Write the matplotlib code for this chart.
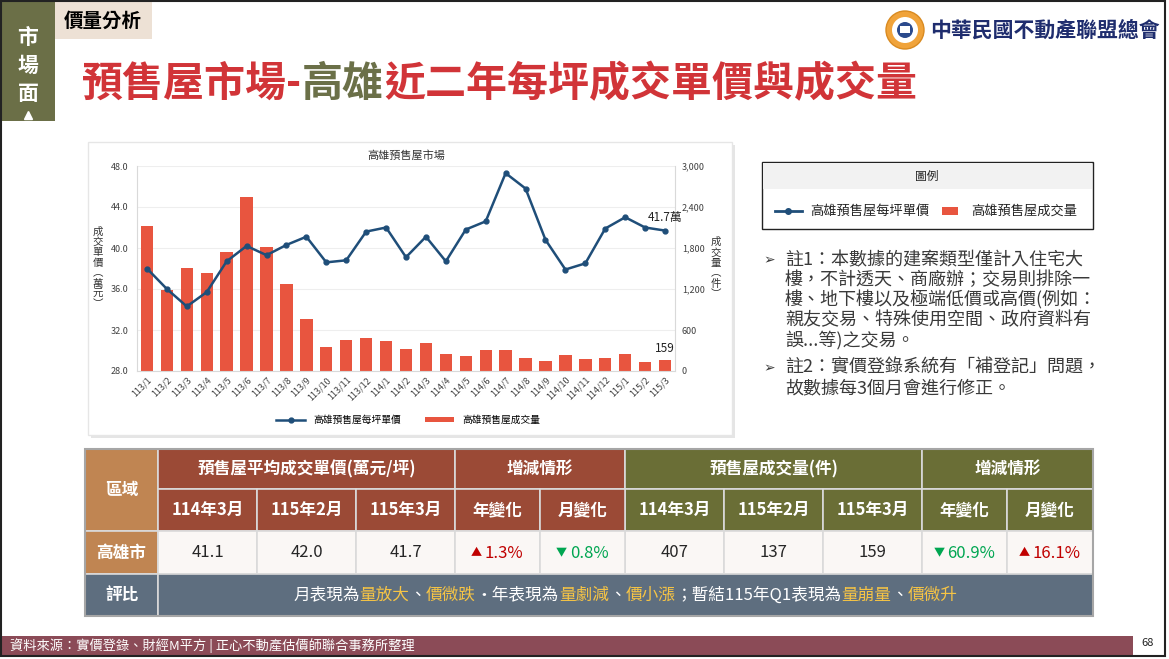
import matplotlib
matplotlib.use('Agg')
import matplotlib.pyplot as plt
from matplotlib.patches import Rectangle, Circle, Patch
from matplotlib.lines import Line2D
from matplotlib.ticker import FuncFormatter

plt.rcParams['font.family'] = ['Noto Sans CJK TC', 'DejaVu Sans']

# chart data
months = ['113/1', '113/2', '113/3', '113/4', '113/5', '113/6', '113/7', '113/8', '113/9',
          '113/10', '113/11', '113/12', '114/1', '114/2', '114/3', '114/4', '114/5', '114/6',
          '114/7', '114/8', '114/9', '114/10', '114/11', '114/12', '115/1', '115/2', '115/3']
price = [38.0, 36.0, 34.3, 35.7, 38.7, 40.2, 39.3, 40.3, 41.1, 38.6, 38.8, 41.6, 42.0, 39.1,
         41.1, 38.7, 41.8, 42.6, 47.3, 45.8, 40.8, 37.9, 38.5, 41.9, 43.0, 42.0, 41.7]
volume = [2120, 1180, 1510, 1430, 1740, 2550, 1810, 1280, 760, 350, 450, 485, 435, 318,
          407, 244, 215, 303, 313, 186, 147, 230, 171, 186, 244, 137, 159]

# table data
periods = ['114年3月', '115年2月', '115年3月']
price_vals = [41.1, 42.0, 41.7]
price_yoy = 1.3
price_mom = -0.8
vol_vals = [407, 137, 159]
vol_yoy = -60.9
vol_mom = 16.1

notes = [
    ['註1：本數據的建案類型僅計入住宅大',
     '樓，不計透天、商廠辦；交易則排除一',
     '樓、地下樓以及極端低價或高價(例如：',
     '親友交易、特殊使用空間、政府資料有',
     '誤...等)之交易。'],
    ['註2：實價登錄系統有「補登記」問題，',
     '故數據每3個月會進行修正。'],
]

LINE_C = '#1F4E79'
BAR_C = '#E8553F'
RED = '#D13438'
OLIVE = '#6B7048'
BROWN = '#9B4A36'
GREEN_HDR = '#6A6E36'
TAN = '#C08552'
SLATE = '#5E6E7F'
YEL = '#F6C445'

W, H = 1169, 659
fig = plt.figure(figsize=(W / 100, H / 100), dpi=100)
fig.patch.set_facecolor('white')

# background axes in pixel coords
bg = fig.add_axes([0, 0, 1, 1])
bg.set_xlim(0, W)
bg.set_ylim(H, 0)
bg.axis('off')
renderer = fig.canvas.get_renderer()


def seg_text(x, y, parts, ha='left', **kw):
    # parts: list of (string, color, size)
    widths = []
    for s, c, sz in parts:
        t = bg.text(0, 0, s, fontsize=sz, **kw)
        widths.append(t.get_window_extent(renderer).width)
        t.remove()
    x0 = x - sum(widths) / 2 if ha == 'center' else x
    for (s, c, sz), w in zip(parts, widths):
        bg.text(x0, y, s, color=c, fontsize=sz, ha='left', va='center', **kw)
        x0 += w


# frame
bg.add_patch(Rectangle((1, 1), 1164, 655, fill=False, ec='#222222', lw=1.5, zorder=5))

# left tab + beige label
bg.add_patch(Rectangle((2, 2), 53, 119, fc='#6B6F47', ec='none'))
for i, ch in enumerate('市場面'):
    bg.text(28, 37 + i * 28, ch, color='white', fontsize=15, fontweight='bold',
            ha='center', va='center')
bg.plot([28], [115], marker='^', color='white', ms=6)
bg.add_patch(Rectangle((55, 2), 97, 37, fc='#EDE1D5', ec='none'))
bg.text(103, 21, '價量分析', fontsize=14, fontweight='bold', ha='center', va='center')

# title
seg_text(82, 84, [('預售屋市場-', RED, 29.5), ('高雄', OLIVE, 29.5),
                  ('近二年每坪成交單價與成交量', RED, 29.5)], fontweight='bold')

# logo
bg.add_patch(Circle((905, 30), 19, fc='#F0A33A', ec='#D98A20', lw=1))
bg.add_patch(Circle((905, 30), 13, fc='white', ec='none'))
bg.add_patch(Circle((905, 30), 8, fc='#2B4A8C', ec='none'))
bg.add_patch(Rectangle((900, 26), 10, 7, fc='white', ec='none'))
bg.text(930, 30, '中華民國不動產聯盟總會', fontsize=15, fontweight='bold', color='#1F2D6E',
        ha='left', va='center')

# chart card
bg.add_patch(Rectangle((91, 145), 644, 293, fc='#D5D5D5', ec='none', alpha=0.6))
bg.add_patch(Rectangle((88, 142), 644, 293, fc='white', ec='#E6E6E6', lw=1))
bg.text(406, 156, '高雄預售屋市場', fontsize=8, color='#333333', ha='center', va='center')
bg.text(98, 268, '\n'.join('成交單價︵萬元︶'), fontsize=7.5, color='#333333',
        ha='center', va='center', linespacing=1.05)
bg.text(716, 268, '\n'.join('成交量︵件︶'), fontsize=7.5, color='#333333',
        ha='center', va='center', linespacing=1.05)

ax = fig.add_axes([137 / W, 1 - 371 / H, (675 - 137) / W, (371 - 166) / H])
axr = ax.twinx()
x = list(range(len(months)))
axr.bar(x, volume, width=0.62, color=BAR_C, zorder=2)
axr.set_ylim(0, 3000)
axr.set_yticks(range(0, 3001, 600))
axr.yaxis.set_major_formatter(FuncFormatter(lambda v, p: f'{int(v):,}'))
axr.grid(axis='y', color='#EEEEEE', lw=0.8)
axr.set_axisbelow(True)

ax.set_zorder(axr.get_zorder() + 1)
ax.patch.set_visible(False)
ax.plot(x, price, color=LINE_C, lw=1.8, marker='o', ms=3.5)
ax.set_ylim(28, 48)
ax.set_yticks(range(28, 49, 4))
ax.yaxis.set_major_formatter(FuncFormatter(lambda v, p: f'{v:.1f}'))
ax.set_xlim(-0.5, len(months) - 0.5)
ax.set_xticks(x)
ax.set_xticklabels(months, rotation=45, ha='right', rotation_mode='anchor')

for a in (ax, axr):
    a.tick_params(axis='both', length=0, labelsize=6.5, colors='#404040')
for s in ax.spines.values():
    s.set_visible(False)
axr.spines['top'].set_visible(False)
for k in ('left', 'right', 'bottom'):
    axr.spines[k].set_color('#D9D9D9')
ax.tick_params(axis='y', pad=6)
axr.tick_params(axis='y', pad=5)
ax.tick_params(axis='x', pad=3)

ax.annotate(f'{price[-1]}萬', xy=(x[-1], price[-1]), xytext=(0, 9.5), textcoords='offset points',
            ha='center', va='center', fontsize=8.5, color='#222222')
axr.annotate(f'{volume[-1]}', xy=(x[-1], volume[-1]), xytext=(0, 8.5), textcoords='offset points',
             ha='center', va='center', fontsize=8.5, color='#222222')

fig.legend(handles=[Line2D([], [], color=LINE_C, lw=1.8, marker='o', ms=3.5),
                    Patch(fc=BAR_C)],
           labels=['高雄預售屋每坪單價', '高雄預售屋成交量'],
           loc='center', bbox_to_anchor=(408 / W, 1 - 420 / H), ncol=2, frameon=False,
           fontsize=7, handlelength=3, handleheight=0.5, columnspacing=2.5)

# right legend box
bg.add_patch(Rectangle((762, 162), 331, 67, fc='white', ec='#222222', lw=1))
bg.add_patch(Rectangle((763, 163), 329, 26, fc='#F2F2F2', ec='none'))
bg.text(927, 176, '圖例', fontsize=8.5, ha='center', va='center', color='#222222')
bg.plot([775, 802], [211, 211], color=LINE_C, lw=2)
bg.plot([788], [211], marker='o', color=LINE_C, ms=4)
bg.text(810, 211, '高雄預售屋每坪單價', fontsize=9.5, va='center', color='#222222')
bg.add_patch(Rectangle((942, 207), 16, 8, fc=BAR_C, ec='none'))
bg.text(971, 211, '高雄預售屋成交量', fontsize=9.5, va='center', color='#222222')

# notes
ny = [260, 368]
for start, block in zip(ny, notes):
    bg.text(769, start, '➢', fontsize=10, ha='center', va='center', color='#3A3A3A',
            family=['DejaVu Sans'])
    for i, line in enumerate(block):
        bg.text(785, start + i * 20, line, fontsize=13, va='center', color='#3A3A3A')

# table
cx = [85, 158, 257, 356, 455, 540, 625, 724, 823, 922, 1007, 1093]
ry = [449, 489, 531, 574, 616]


def cell(c0, c1, r0, r1, fc, txt=None, color='white', size=12, weight='bold'):
    bg.add_patch(Rectangle((cx[c0], ry[r0]), cx[c1] - cx[c0], ry[r1] - ry[r0],
                           fc=fc, ec='#DADADA', lw=1.2))
    if txt is not None:
        bg.text((cx[c0] + cx[c1]) / 2, (ry[r0] + ry[r1]) / 2, txt, color=color,
                fontsize=size, fontweight=weight, ha='center', va='center')


cell(0, 1, 0, 2, TAN, '區域')
cell(1, 4, 0, 1, BROWN, '預售屋平均成交單價(萬元/坪)')
cell(4, 6, 0, 1, BROWN, '增減情形')
cell(6, 9, 0, 1, GREEN_HDR, '預售屋成交量(件)')
cell(9, 11, 0, 1, GREEN_HDR, '增減情形')
for i, p in enumerate(periods):
    cell(1 + i, 2 + i, 1, 2, BROWN, p)
    cell(6 + i, 7 + i, 1, 2, GREEN_HDR, p)
for j, lab in enumerate(['年變化', '月變化']):
    cell(4 + j, 5 + j, 1, 2, BROWN, lab)
    cell(9 + j, 10 + j, 1, 2, GREEN_HDR, lab)
cell(0, 1, 2, 3, TAN, '高雄市')
for i, v in enumerate(price_vals):
    cell(1 + i, 2 + i, 2, 3, '#FAF7F5', f'{v:.1f}', color='#262626', weight='normal')
for i, v in enumerate(vol_vals):
    cell(6 + i, 7 + i, 2, 3, '#FAF7F5', f'{v}', color='#262626', weight='normal')
for col, v in [(4, price_yoy), (5, price_mom), (9, vol_yoy), (10, vol_mom)]:
    cell(col, col + 1, 2, 3, '#FAF7F5')
    c = '#C00000' if v > 0 else '#00A651'
    sym = '▲' if v > 0 else '▼'
    seg_text((cx[col] + cx[col + 1]) / 2, 553, [(sym + ' ', c, 8), (f'{abs(v):.1f}%', c, 12)],
             ha='center')
cell(0, 1, 3, 4, SLATE, '評比')
cell(1, 11, 3, 4, SLATE)
bg.add_patch(Rectangle((cx[0], ry[0]), cx[-1] - cx[0], ry[-1] - ry[0], fill=False,
                       ec='#A6A6A6', lw=1.5))
fs = 12
seg_text((cx[1] + cx[-1]) / 2, 595,
         [('月表現為', 'white', fs), ('量放大', YEL, fs), ('、', 'white', fs),
          ('價微跌', YEL, fs), ('·年表現為', 'white', fs), ('量劇減', YEL, fs),
          ('、', 'white', fs), ('價小漲', YEL, fs), ('；暫結115年Q1表現為', 'white', fs),
          ('量崩量', YEL, fs), ('、', 'white', fs), ('價微升', YEL, fs)],
         ha='center')

# footer
bg.add_patch(Rectangle((1, 636), 1132, 20, fc='#8B4B57', ec='none'))
bg.text(10, 646, '資料來源：實價登錄、財經M平方 | 正心不動產估價師聯合事務所整理',
        fontsize=9.5, color='white', va='center')
bg.text(1148, 643, '68', fontsize=8, ha='center', va='center', color='#222222')

fig.savefig('out.png', dpi=100)
